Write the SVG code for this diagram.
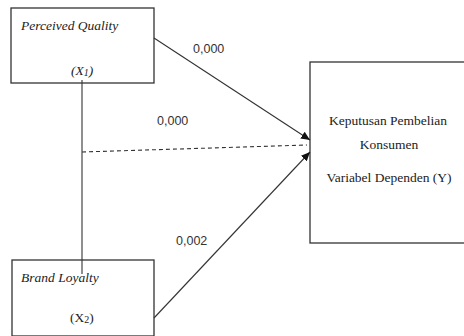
<svg xmlns="http://www.w3.org/2000/svg" width="464" height="336" viewBox="0 0 464 336">
<style>
.box{fill:#fff;stroke:#333;stroke-width:1.3}
.ser{font-family:"Liberation Serif","Times New Roman",serif;font-size:13.5px;fill:#222}
.it{font-style:italic}
.lbl{font-family:"Liberation Sans",Arial,sans-serif;font-size:12.5px;fill:#333}
.ln{stroke:#333;stroke-width:1.1;fill:none}
</style>
<defs>
<marker id="ah" markerUnits="userSpaceOnUse" markerWidth="10" markerHeight="8" refX="9" refY="4" orient="auto">
<path d="M0,0 L9,4 L0,8 Z" fill="#111"/>
</marker>
</defs>
<rect width="464" height="336" fill="#fff"/>
<g id="node-y">
<rect class="box" x="310" y="62" width="170" height="181"/>
<text class="ser" x="388" y="125" text-anchor="middle">Keputusan Pembelian</text>
<text class="ser" x="389" y="149" text-anchor="middle">Konsumen</text>
<text class="ser" x="389" y="182" text-anchor="middle">Variabel Dependen (Y)</text>
</g>
<g id="node-x1">
<rect class="box" x="11" y="8" width="143" height="75"/>
<text class="ser it" x="21" y="30">Perceived Quality</text>
<text class="ser it" x="71" y="75">(X<tspan font-size="10" dy="1">1</tspan><tspan dy="-1">)</tspan></text>
</g>
<g id="node-x2">
<rect class="box" x="12" y="260" width="142" height="76"/>
<text class="ser it" x="21" y="282">Brand Loyalty</text>
<text class="ser" x="70" y="322">(X<tspan font-size="10" dy="1">2</tspan><tspan dy="-1">)</tspan></text>
</g>
<g id="connectors">
<line class="ln" x1="82" y1="80" x2="82" y2="274"/>
<line class="ln" x1="82" y1="152" x2="307" y2="145" stroke-dasharray="4,3"/>
<line class="ln" x1="154" y1="38" x2="310" y2="140" marker-end="url(#ah)"/>
<line class="ln" x1="154" y1="318" x2="310" y2="152" marker-end="url(#ah)"/>
<text class="lbl" x="193" y="53">0,000</text>
<text class="lbl" x="157" y="125">0,000</text>
<text class="lbl" x="176" y="245">0,002</text>
</g>
</svg>
